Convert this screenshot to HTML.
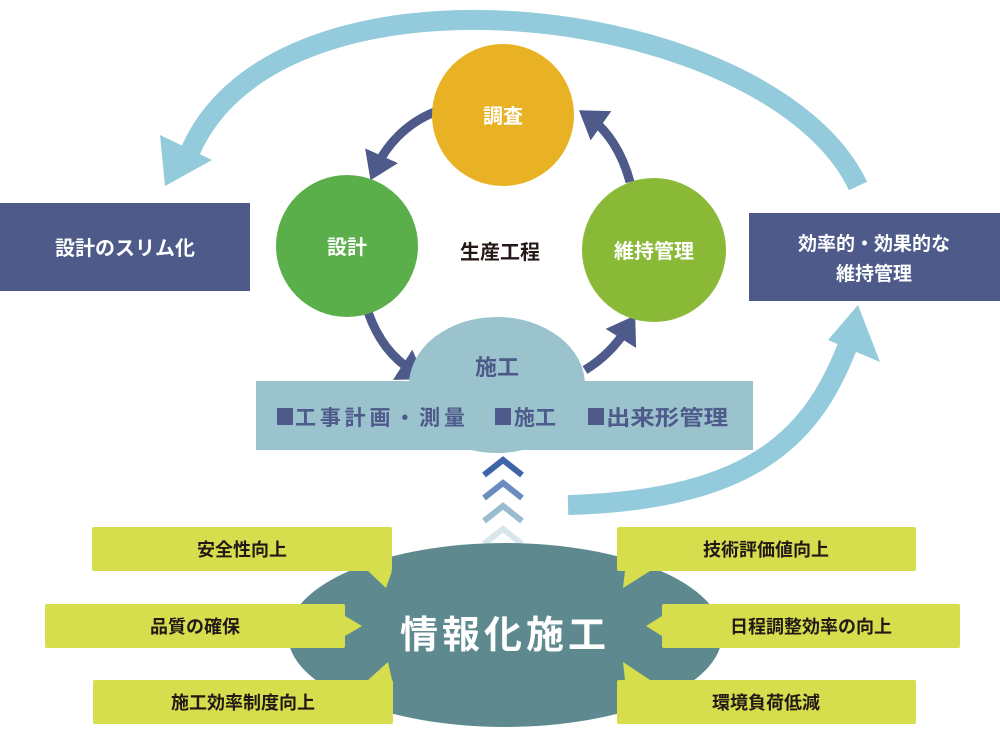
<!DOCTYPE html>
<html><head><meta charset="utf-8"><style>
html,body{margin:0;padding:0;background:#fff;}
svg{display:block;font-family:"Liberation Sans","Noto Sans CJK JP",sans-serif;font-weight:bold;}
</style></head><body>
<svg width="1000" height="730" viewBox="0 0 1000 730" xmlns="http://www.w3.org/2000/svg">
<defs>
<marker id="dk" markerWidth="4" markerHeight="4" refX="1.5" refY="2" orient="auto"><path d="M0,0 L3,2 L0,4 Z" fill="#4d5a8a"/></marker>
</defs>
<path d="M858,186 C770,0 260,-60 185,165" fill="none" stroke="#93cbdc" stroke-width="20"/>
<polygon points="165,186 160,135 212,160" fill="#93cbdc"/>
<path d="M568,505 C760,500 815,430 848,345" fill="none" stroke="#93cbdc" stroke-width="20"/>
<polygon points="858,305 880,362 828,340" fill="#93cbdc"/>
<rect x="0" y="203" width="250" height="88" fill="#4d5a8a"/>
<text x="125" y="255" fill="#fff" font-size="20" text-anchor="middle">設計のスリム化</text>
<rect x="749" y="213" width="251" height="88" fill="#4d5a8a"/>
<text x="874" y="250" fill="#fff" font-size="19" text-anchor="middle">効率的・効果的な</text>
<text x="874" y="280" fill="#fff" font-size="19" text-anchor="middle">維持管理</text>
<g fill="none" stroke="#4d5a8a" stroke-width="9">
<path d="M440,110 C405,122 385,148 376,168" marker-end="url(#dk)"/>
<path d="M368,312 C378,340 392,358 414,372" marker-end="url(#dk)"/>
<path d="M585,370 C605,358 618,343 628,327" marker-end="url(#dk)"/>
<path d="M630,182 C622,152 607,130 590,118" marker-end="url(#dk)"/>
</g>
<circle cx="503" cy="115" r="71" fill="#e9b225"/>
<text x="503" y="123" fill="#fff" font-size="20" text-anchor="middle">調査</text>
<circle cx="347" cy="246" r="71" fill="#5aaf4b"/>
<text x="347" y="254" fill="#fff" font-size="20" text-anchor="middle">設計</text>
<circle cx="654" cy="250" r="72" fill="#8ab938"/>
<text x="654" y="258" fill="#fff" font-size="20" text-anchor="middle">維持管理</text>
<text x="500" y="259" fill="#231815" font-size="20" text-anchor="middle">生産工程</text>
<ellipse cx="497" cy="385" rx="88" ry="68" fill="#9ac3cd"/>
<rect x="256" y="381" width="497" height="69" fill="#9ac3cd"/>
<text x="497" y="375" fill="#4d5a8a" font-size="22" text-anchor="middle">施工</text>
<g fill="#4d5a8a" font-size="21">
<rect x="277" y="408" width="16" height="17"/>
<text x="295" y="425" textLength="170" lengthAdjust="spacing">工事計画・測量</text>
<rect x="495" y="408" width="16" height="17"/>
<text x="514" y="425">施工</text>
<rect x="588" y="408" width="16" height="17"/>
<text x="606" y="425" textLength="122" lengthAdjust="spacingAndGlyphs">出来形管理</text>
</g>
<g fill="none" stroke-width="6">
<path d="M484,475 L503,460 L522,475" stroke="#3f64a8"/>
<path d="M484,498 L503,483 L522,498" stroke="#6a8cbf"/>
<path d="M484,521 L503,506 L522,521" stroke="#9bbbd0"/>
<path d="M484,544 L503,529 L522,544" stroke="#d8e6ec"/>
</g>
<ellipse cx="505" cy="635" rx="217" ry="92" fill="#5e8a8f"/>
<text x="505" y="648" fill="#fff" font-size="38" letter-spacing="4" text-anchor="middle">情報化施工</text>
<g fill="#d6de4e">
<rect x="92" y="527" width="300" height="44" rx="2"/><polygon points="368,571 392,571 386,588"/>
<rect x="617" y="527" width="299" height="44" rx="2"/><polygon points="625,571 650,571 623,588"/>
<rect x="45" y="604" width="300" height="44" rx="2"/><polygon points="345,616 345,636 362,626"/>
<rect x="662" y="604" width="298" height="44" rx="2"/><polygon points="662,616 662,636 646,626"/>
<rect x="93" y="680" width="300" height="44" rx="2"/><polygon points="368,680 392,680 388,662"/>
<rect x="617" y="680" width="299" height="44" rx="2"/><polygon points="625,680 650,680 623,662"/>
</g>
<g fill="#231815" font-size="18" text-anchor="middle">
<text x="242" y="556">安全性向上</text>
<text x="766" y="556">技術評価値向上</text>
<text x="195" y="633">品質の確保</text>
<text x="811" y="633">日程調整効率の向上</text>
<text x="243" y="709">施工効率制度向上</text>
<text x="766" y="709">環境負荷低減</text>
</g>
</svg>
</body></html>
